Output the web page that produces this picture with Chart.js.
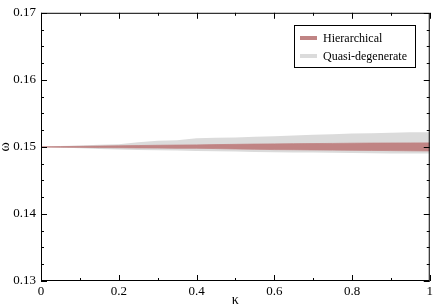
<!DOCTYPE html>
<html>
<head>
<meta charset="utf-8">
<script src="https://cdn.jsdelivr.net/npm/chart.js@4"></script>
<style>
  html, body { margin: 0; padding: 0; background: #fff; }
  #wrap { width: 436px; height: 306px; position: relative; }
</style>
</head>
<body>
<div id="wrap"><canvas id="c" width="436" height="306"></canvas></div>
<script>
// κ 값
const kappa = [0, 0.05, 0.1, 0.15, 0.2, 0.25, 0.3, 0.35, 0.4, 0.45, 0.5,
               0.55, 0.6, 0.65, 0.7, 0.75, 0.8, 0.85, 0.9, 0.95, 1.0];

// Quasi-degenerate 띠 (위/아래)
const quasiUpper = [0.1500, 0.15012, 0.1502, 0.15032, 0.1504, 0.1507, 0.1509, 0.1510, 0.1513, 0.15138, 0.1514,
                    0.1515, 0.1516, 0.1517, 0.1518, 0.1519, 0.1520, 0.15205, 0.1521, 0.15218, 0.1522];
const quasiLower = [0.1500, 0.1499, 0.1498, 0.1497, 0.1496, 0.14955, 0.1495, 0.14945, 0.1494, 0.14935, 0.1493,
                    0.14925, 0.1492, 0.14918, 0.14915, 0.14912, 0.1491, 0.14905, 0.1490, 0.1490, 0.1490];

// Hierarchical 띠 (위/아래)
const hierUpper = [0.1500, 0.15004, 0.15008, 0.15012, 0.15016, 0.1502, 0.15024, 0.15027, 0.1503, 0.15034, 0.15038,
                   0.15042, 0.15045, 0.15048, 0.1505, 0.15052, 0.15055, 0.15057, 0.15058, 0.15059, 0.1506];
const hierLower = [0.1500, 0.14996, 0.14993, 0.1499, 0.14988, 0.14985, 0.14983, 0.1498, 0.1498, 0.14975, 0.1497,
                   0.14965, 0.1496, 0.14958, 0.14955, 0.14952, 0.1495, 0.14948, 0.14945, 0.14942, 0.1494];

const legendLabels = ["Hierarchical", "Quasi-degenerate"];
const xTicks = [0, 0.2, 0.4, 0.6, 0.8, 1];
const yTicks = [0.13, 0.14, 0.15, 0.16, 0.17];

const RED = "rgb(192,132,132)";
const GRAY = "rgb(219,219,219)";
const SERIF = "'Liberation Serif', 'DejaVu Serif', serif";

function pts(ys) { return kappa.map((x, i) => ({ x, y: ys[i] })); }

// 테두리, 안쪽 눈금, 축 제목, 범례
const framePlugin = {
  id: "frame",
  afterDraw(chart) {
    const { ctx, chartArea: a, scales } = chart;
    const xs = scales.x, ys = scales.y;
    ctx.save();
    ctx.strokeStyle = "#000";
    ctx.lineWidth = 1;
    ctx.strokeRect(a.left + 0.5, a.top + 0.5, a.right - a.left - 1, a.bottom - a.top - 1);

    ctx.beginPath();
    for (let v = 0; v <= 1.0001; v += 0.1) {
      const px = Math.round(xs.getPixelForValue(v)) + 0.5;
      const major = Math.abs(v * 5 - Math.round(v * 5)) < 1e-6;
      const len = major ? 6 : 3;
      ctx.moveTo(px, a.bottom); ctx.lineTo(px, a.bottom - len);
      ctx.moveTo(px, a.top); ctx.lineTo(px, a.top + len);
    }
    for (let i = 0; i <= 16; i++) {
      const v = 0.13 + i * 0.0025;
      const py = Math.round(ys.getPixelForValue(v)) + 0.5;
      const len = i % 4 === 0 ? 6 : 3;
      ctx.moveTo(a.left, py); ctx.lineTo(a.left + len, py);
      ctx.moveTo(a.right, py); ctx.lineTo(a.right - len, py);
    }
    ctx.stroke();

    // 축 제목
    ctx.fillStyle = "#000";
    ctx.font = "14px " + SERIF;
    ctx.textAlign = "center";
    ctx.textBaseline = "middle";
    ctx.fillText("κ", (a.left + a.right) / 2, 300);
    ctx.save();
    ctx.translate(5, ys.getPixelForValue(0.15));
    ctx.rotate(-Math.PI / 2);
    ctx.fillText("ω", 0, 0);
    ctx.restore();

    // 범례
    ctx.fillStyle = "#fff";
    ctx.fillRect(294, 25, 121, 42);
    ctx.strokeStyle = "#000";
    ctx.strokeRect(294.5, 25.5, 121, 42);
    const cols = [RED, GRAY];
    const ly = [38, 56];
    ctx.lineWidth = 4;
    ctx.font = "12px " + SERIF;
    ctx.textAlign = "left";
    legendLabels.forEach((t, i) => {
      ctx.strokeStyle = cols[i];
      ctx.beginPath();
      ctx.moveTo(300, ly[i]); ctx.lineTo(317, ly[i]);
      ctx.stroke();
      ctx.fillStyle = "#000";
      ctx.fillText(t, 323, ly[i] + 0.5);
    });
    ctx.restore();
  }
};

// 첫 번째 데이터셋이 맨 위에 그려지므로 Hierarchical 을 먼저 둔다
new Chart(document.getElementById("c"), {
  type: "line",
  data: {
    datasets: [
      { label: "hu", data: pts(hierUpper), borderWidth: 0.8, borderColor: RED, backgroundColor: RED, fill: "+1", pointRadius: 0 },
      { label: "hl", data: pts(hierLower), borderWidth: 0.8, borderColor: RED, backgroundColor: RED, fill: false, pointRadius: 0 },
      { label: "qu", data: pts(quasiUpper), borderWidth: 0, borderColor: GRAY, backgroundColor: GRAY, fill: "+1", pointRadius: 0 },
      { label: "ql", data: pts(quasiLower), borderWidth: 0, borderColor: GRAY, backgroundColor: GRAY, fill: false, pointRadius: 0 }
    ]
  },
  options: {
    responsive: false,
    animation: false,
    layout: { padding: { top: 5, right: 5, left: 0, bottom: 0 } },
    plugins: { legend: { display: false }, tooltip: { enabled: false } },
    scales: {
      x: {
        type: "linear", min: 0, max: 1,
        afterFit: s => { s.height = 25; },
        afterBuildTicks: s => { s.ticks = xTicks.map(v => ({ value: v })); },
        grid: { display: false, drawTicks: false },
        border: { display: false },
        ticks: { padding: 3, color: "#000", font: { family: SERIF, size: 13 },
                 maxRotation: 0, callback: v => String(+v.toFixed(1)) }
      },
      y: {
        type: "linear", min: 0.13, max: 0.17,
        afterFit: s => { s.width = 41; },
        afterBuildTicks: s => { s.ticks = yTicks.map(v => ({ value: v })); },
        grid: { display: false, drawTicks: false },
        border: { display: false },
        ticks: { padding: 5, color: "#000", font: { family: SERIF, size: 13 },
                 callback: v => v.toFixed(2) }
      }
    }
  },
  plugins: [framePlugin]
});
</script>
</body>
</html>
